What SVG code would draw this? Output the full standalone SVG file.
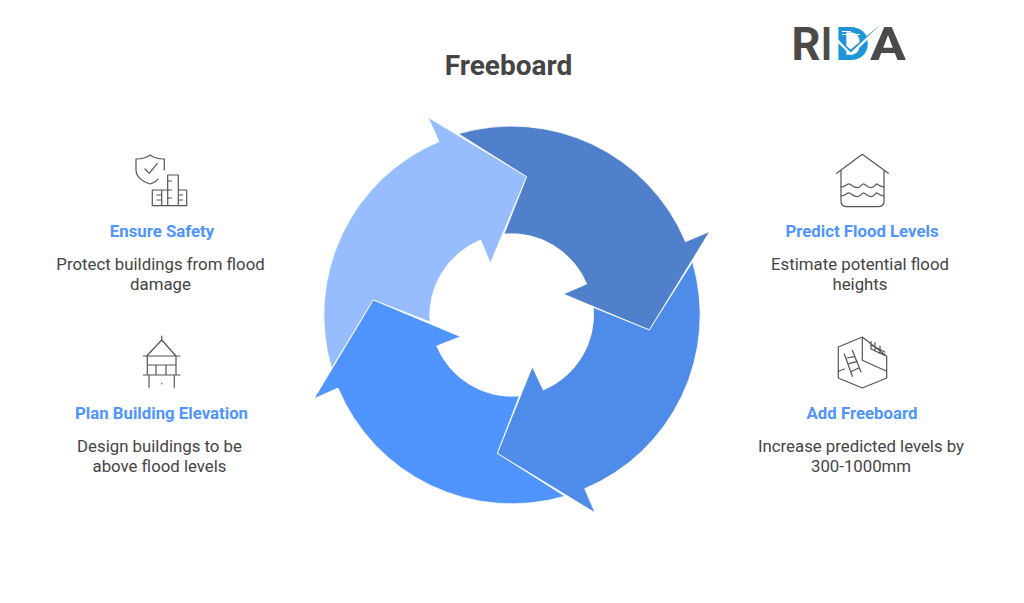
<svg xmlns="http://www.w3.org/2000/svg" width="1024" height="603" viewBox="0 0 1024 603">
<style>
text{font-family:Roboto,"Liberation Sans",sans-serif}
.t{font-size:28px;font-weight:700;fill:#454545;text-anchor:middle}
.h{font-size:16.800px;font-weight:700;fill:#4F94FF;text-anchor:middle}
.b{font-size:16.800px;font-weight:400;fill:#444;text-anchor:middle}
.i{fill:none;stroke:#555;stroke-width:1.2;stroke-linecap:round;stroke-linejoin:round}
.a{stroke:#fff;stroke-width:.8;stroke-linejoin:miter}
.l{font-size:46px;font-weight:700;fill:#4b4a4a}
</style>
<rect width="1024" height="603" fill="#fff"/>
<text class="t" x="508.500" y="74.500">Freeboard</text>
<g id="logo">
<text class="l" x="791.500" y="60" textLength="29" lengthAdjust="spacingAndGlyphs">R</text>
<text class="l" x="821" y="60" textLength="11" lengthAdjust="spacingAndGlyphs">I</text>
<text class="l" x="835" y="60" textLength="35" lengthAdjust="spacingAndGlyphs" style="fill:#1E95D9">D</text>
<text class="l" x="870" y="60" textLength="36" lengthAdjust="spacingAndGlyphs">A</text>
<path d="M842 31.500H851M842 34.500H860" stroke="#fff" stroke-width="1.200" fill="none"/>
<path d="M836 39L851 53.500L881 25" fill="none" stroke="#fff" stroke-width="3"/>
<path d="M836.700 38.300L850.700 49.500L881 24L850.700 52.500Z" fill="#1E95D9"/>
</g>
<g id="connectors">
<path class="a" fill="#97BDFF" d="M331.500 368.300L373.300 300L430 322A81.600 81.600 0 0 1 480.700 240L490.300 263.300L526.700 176.700L428 117.300L439 141.500A188.500 188.500 0 0 0 331.500 368.300Z"/>
<path class="a" fill="#5080CC" d="M458.300 133.800L526.700 176.700L504 234A81.600 81.600 0 0 1 586.700 284L563.300 294L649.300 330L709.700 231.500L685.500 241.700A188.500 188.500 0 0 0 458.300 133.800Z"/>
<path class="a" fill="#4F8BE9" d="M692.500 261.700L649.300 330L593.300 307.300A81.600 81.600 0 0 1 543.300 390L532.300 366.700L497.300 453.300L595 512.700L584.700 488.700A188.500 188.500 0 0 0 692.500 261.700Z"/>
<path class="a" fill="#4F94FF" d="M565 496.200L497.300 453.300L519.300 396A81.600 81.600 0 0 1 436.700 346L460.700 336.700L373.300 300L314 398.700L338 388A188.500 188.500 0 0 0 565 496.200Z"/>
</g>
<g id="ensure-safety">
<path class="i" d="M150 155C146 158 141 159 136 159V170C136 177 143 182 150 184C153 183 156 182 158 179M164.300 170V159C159 159 154 158 150 155"/>
<path class="i" d="M145 169L149.300 173.300L157.300 163.300"/>
<path class="i" d="M167.700 205.700V175H178.300V205.700M152.300 205.700V190H161.700M161.700 190V205.700M178.300 190H186.700V205.700H152.300M167.700 181H171.500M167.700 190H171.500M167.700 198H171.500M156.700 195H161.700M156.700 200H161.700M178.300 195H182.700M178.300 200H182.700M161.700 190H167.700"/>
<text class="h" x="162" y="236.500">Ensure Safety</text>
<text class="b" x="160.500" y="270">Protect buildings from flood</text>
<text class="b" x="160.500" y="290">damage</text>
</g>
<g id="plan-building-elevation">
<path class="i" d="M161.700 336V340L146.700 356M161.700 340L176 356M143.300 356H180M147.300 356V375M176 356V375M147.300 365H176M143.300 375H180M156 365V375M166 365V375M149 375V387.300M174.300 375V387.300M161.700 383.300V383.800"/>
<text class="h" x="161.500" y="418.500">Plan Building Elevation</text>
<text class="b" x="159.500" y="452">Design buildings to be</text>
<text class="b" x="159.500" y="472">above flood levels</text>
</g>
<g id="predict-flood-levels">
<path class="i" d="M836.700 173.300L862.300 154.300L888.300 173.300M841 170V201C841 205 843 206.700 847 206.700H878C882 206.700 884 205 884 201V170"/>
<path class="i" d="M841 187C845 187 847 183.500 849.500 184C852 185 854 188 858 187.500C861 187 862 183.500 864 184C866 185 868 188 872 187.500C875 187 875.500 183.500 877 184C879 185 880 187 884 187"/>
<path class="i" d="M841 196C845 196 847 192.500 849.500 193C852 194 854 197 858 196.500C861 196 862 192.500 864 193C866 194 868 197 872 196.500C875 196 875.500 192.500 877 193C879 194 880 196 884 196"/>
<text class="h" x="862" y="236.500">Predict Flood Levels</text>
<text class="b" x="860" y="270">Estimate potential flood</text>
<text class="b" x="860" y="290">heights</text>
</g>
<g id="add-freeboard">
<path class="i" d="M862.300 337L886.700 356.300V378L862.300 388L838.300 378V347L862.300 337V360.300L886.700 371.300M871 341.300V349L886.700 356.300M871 345L885 352M875 342.500V351M880 346V353.500"/>
<path class="i" d="M844.300 354L852.300 376.300M852.300 350.300L861 372M847.300 358L855 356.300M849 363.700L857.300 361.300M851.700 371.300L859 368M838.300 371.300L844.300 369"/>
<text class="h" x="862" y="418.500">Add Freeboard</text>
<text class="b" x="861" y="452">Increase predicted levels by</text>
<text class="b" x="861" y="472">300-1000mm</text>
</g>
</svg>
